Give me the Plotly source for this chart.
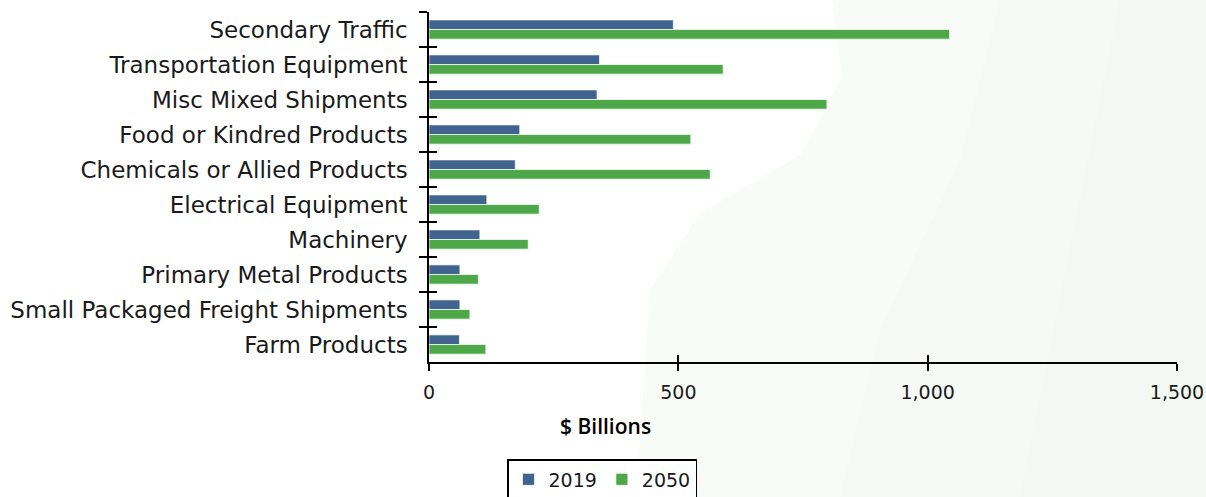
import plotly.graph_objects as go

categories = [
    "Secondary Traffic",
    "Transportation Equipment",
    "Misc Mixed Shipments",
    "Food or Kindred Products",
    "Chemicals or Allied Products",
    "Electrical Equipment",
    "Machinery",
    "Primary Metal Products",
    "Small Packaged Freight Shipments",
    "Farm Products",
]
values_2019 = [490, 342, 337, 182, 173, 116, 102, 62, 62, 61]
values_2050 = [1044, 590, 798, 525, 564, 221, 199, 99, 82, 114]
series_names = ["2019", "2050"]
x_ticks = [0, 500, 1000, 1500]
x_title = "$ Billions"

# body margin is removed (post_script), so the figure fills the page
W, H = 1206, 497
# plot area in page pixels
PX0, PX1, PY0, PY1 = 429, 1177, 12, 362
L, T = PX0, PY0
R, B = W - PX1, H - PY1
PW, PH = PX1 - PX0, PY1 - PY0

BLUE = "#41648F"
GREEN = "#4EA84A"
LABEL_FONT = "DejaVu Sans"
TEXT = "#1a1a1a"


def to_paper(pts):
    xs = [(px - PX0) / PW for px, _ in pts]
    ys = [1 - (py - PY0) / PH for _, py in pts]
    return xs, ys


def path_from(pts):
    xs, ys = to_paper(pts)
    s = "M %.4f,%.4f " % (xs[0], ys[0])
    for x, y in zip(xs[1:], ys[1:]):
        s += "L %.4f,%.4f " % (x, y)
    return s + "Z"


fig = go.Figure()
fig.add_trace(go.Bar(
    y=categories, x=values_2019, name=series_names[0], orientation="h",
    marker=dict(color=BLUE, line=dict(color="rgba(255,255,255,0.7)", width=1)),
))
fig.add_trace(go.Bar(
    y=categories, x=values_2050, name=series_names[1], orientation="h",
    marker=dict(color=GREEN, line=dict(color="rgba(255,255,255,0.7)", width=1)),
))
# helper trace for the inner halves of the crossing tick marks
fig.add_trace(go.Scatter(x=[None], y=[None], xaxis="x2", yaxis="y2",
                         showlegend=False, hoverinfo="skip"))

# faint slide-background tint on the right
bg1 = [(832, 0), (842, 77), (800, 155), (700, 213), (650, 290), (636, 497), (1206, 497), (1206, 0)]
bg2 = [(1000, 0), (960, 160), (880, 330), (840, 497), (1206, 497), (1206, 0)]
bg3 = [(1120, 0), (1080, 200), (1020, 497), (1206, 497), (1206, 0)]
shapes = [
    dict(type="path", xref="paper", yref="paper", path=path_from(bg1),
         fillcolor="#f9fbf9", line=dict(width=0), layer="below"),
    dict(type="path", xref="paper", yref="paper", path=path_from(bg2),
         fillcolor="#f6f9f6", line=dict(width=0), layer="below"),
    dict(type="path", xref="paper", yref="paper", path=path_from(bg3),
         fillcolor="#f3f8f3", line=dict(width=0), layer="below"),
]

annotations = [
    dict(text=x_title, xref="paper", yref="paper",
         x=(605 - PX0) / PW, y=1 - (426 - PY0) / PH, xanchor="center", yanchor="middle",
         showarrow=False,
         font=dict(family="Open Sans", size=21, color="black", weight=600)),
]

n = len(categories)
fig.update_layout(
    width=W, height=H,
    margin=dict(l=L, r=R, t=T, b=B, pad=0, autoexpand=False),
    paper_bgcolor="white",
    plot_bgcolor="rgba(0,0,0,0)",
    barmode="group",
    bargap=0.45,
    bargroupgap=0,
    shapes=shapes,
    annotations=annotations,
    font=dict(family=LABEL_FONT, color=TEXT, size=21),
    xaxis=dict(
        range=[0, 1500], tickvals=x_ticks, tickformat=",",
        showline=True, linecolor="black", linewidth=1.5,
        ticks="outside", ticklen=7, tickwidth=1.5, tickcolor="black",
        showgrid=False, zeroline=False, automargin=False,
        tickfont=dict(family=LABEL_FONT, size=19, color=TEXT),
        ticklabelstandoff=5,
    ),
    xaxis2=dict(
        overlaying="x", anchor="y", side="bottom", range=[0, 1500],
        tickvals=x_ticks, ticks="inside", ticklen=7, tickwidth=1.5,
        tickcolor="black", showticklabels=False, showline=False,
        showgrid=False, zeroline=False, automargin=False,
    ),
    yaxis=dict(
        categoryorder="array", categoryarray=categories, autorange="reversed",
        showline=True, linecolor="black", linewidth=1.5,
        ticks="outside", ticklen=8, tickwidth=1.5, tickcolor="black",
        tickson="boundaries", showgrid=False, zeroline=False, automargin=False,
        tickfont=dict(family=LABEL_FONT, size=23, color=TEXT),
        ticklabelstandoff=15,
    ),
    yaxis2=dict(
        overlaying="y", anchor="x", side="left",
        range=[n - 0.5, -0.5],
        tickvals=[i - 0.5 for i in range(n + 1)],
        ticks="inside", ticklen=8, tickwidth=1.5, tickcolor="black",
        showticklabels=False, showline=False, showgrid=False, zeroline=False,
        automargin=False,
    ),
    legend=dict(
        orientation="h", x=(507 - PX0) / PW, xanchor="left",
        y=1 - (459 - PY0) / PH, yanchor="top",
        bordercolor="black", borderwidth=1.5, bgcolor="white",
        font=dict(family=LABEL_FONT, size=19, color=TEXT),
        itemwidth=30, tracegroupgap=0,
    ),
)

fig.write_html(
    "out.html",
    config={"displayModeBar": False},
    post_script="document.body.style.margin='0';document.body.style.overflow='hidden';",
)
